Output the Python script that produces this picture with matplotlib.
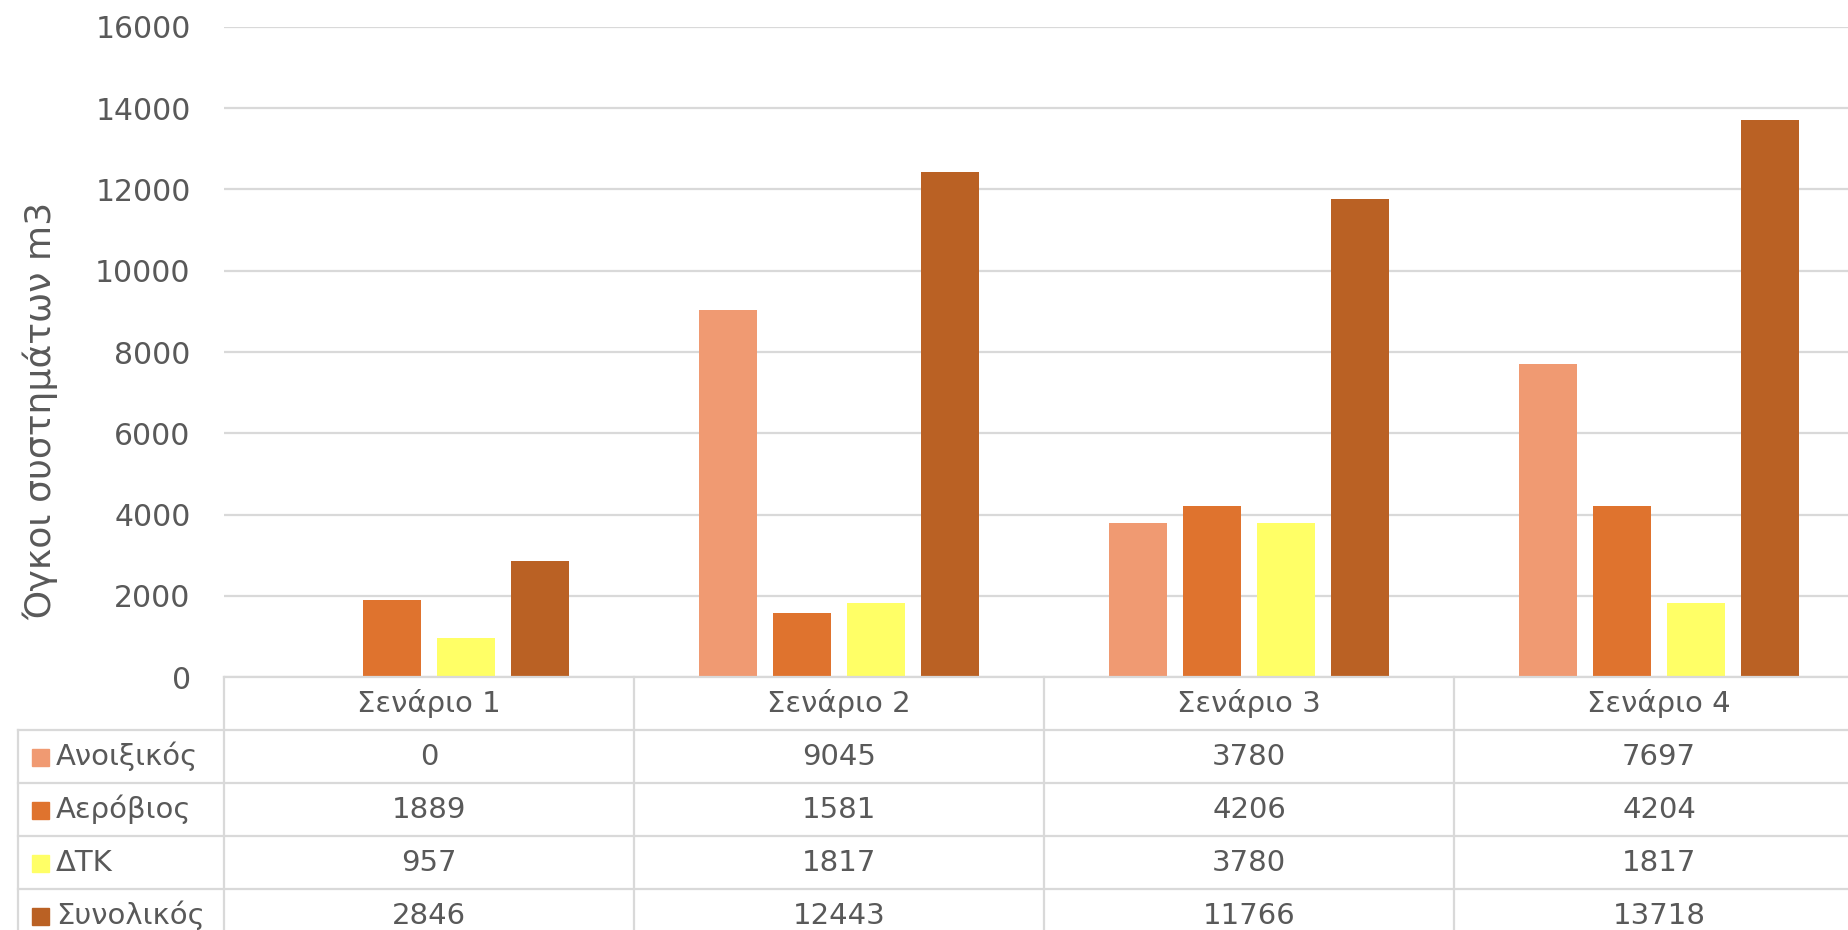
import numpy as np
import matplotlib
matplotlib.use("Agg")
import matplotlib.pyplot as plt

# data
scenarios = ["Σενάριο 1", "Σενάριο 2", "Σενάριο 3", "Σενάριο 4"]
series_names = ["Ανοιξικός", "Αερόβιος", "ΔΤΚ", "Συνολικός"]
anoixikos = [0, 9045, 3780, 7697]
aerobios = [1889, 1581, 4206, 4204]
dtk = [957, 1817, 3780, 1817]
synolikos = [2846, 12443, 11766, 13718]
series_values = [anoixikos, aerobios, dtk, synolikos]
colors = ["#F09A72", "#DF732E", "#FFFF66", "#BA6124"]
y_ticks = [0, 2000, 4000, 6000, 8000, 10000, 12000, 14000, 16000]

W, H = 1849, 930
text_col = "#595959"
grid_col = "#D9D9D9"

# layout in pixels
left = 224
cat_w = 410
y_zero = 677
y_top = 27
row_h = 53
key_left = 18

fig = plt.figure(figsize=(W / 100, H / 100), dpi=100)
ax = fig.add_axes([left / W, (H - y_zero) / H,
                   4 * cat_w / W, (y_zero - y_top) / H])

x = np.arange(len(scenarios))
step = 0.181
width = 0.142
for i, (vals, col) in enumerate(zip(series_values, colors)):
    ax.bar(x + (i - 1.5) * step, vals, width, color=col, zorder=3)

ax.set_xlim(-0.5, 3.5)
ax.set_ylim(0, 16000)
ax.set_yticks(y_ticks)
ax.set_yticklabels([str(t) for t in y_ticks], fontsize=21.5, color=text_col)
ax.tick_params(axis="y", length=0, pad=24)
ax.set_xticks([])
ax.grid(axis="y", color=grid_col, linewidth=1.6, zorder=0)
for s in ax.spines.values():
    s.set_visible(False)

fig.text(40 / W, 1 - 411 / H, "Όγκοι συστημάτων m3", rotation=90,
         ha="center", va="center", fontsize=26, color=text_col)

# data table under the chart, in pixel coordinates
tab = fig.add_axes([0, 0, 1, 1], facecolor="none")
tab.set_xlim(0, W)
tab.set_ylim(H, 0)
tab.axis("off")

right = left + 4 * cat_w
n_rows = len(series_names)
bottom = y_zero + row_h * (n_rows + 1)
lw = 1.6

tab.plot([left, right], [y_zero, y_zero], color=grid_col, lw=lw)
for r in range(1, n_rows + 1):
    yy = y_zero + r * row_h
    tab.plot([key_left, right], [yy, yy], color=grid_col, lw=lw)
tab.plot([key_left, key_left], [y_zero + row_h, bottom], color=grid_col, lw=lw)
for c in range(5):
    xx = left + c * cat_w
    tab.plot([xx, xx], [y_zero, bottom], color=grid_col, lw=lw)

fs = 21
for c, name in enumerate(scenarios):
    tab.text(left + (c + 0.5) * cat_w, y_zero + row_h / 2, name,
             ha="center", va="center", fontsize=fs, color=text_col)

for r, (name, vals, col) in enumerate(zip(series_names, series_values, colors)):
    yc = y_zero + (r + 1.5) * row_h
    tab.add_patch(plt.Rectangle((32, yc - 8), 17, 17, color=col))
    tab.text(56, yc, name, ha="left", va="center", fontsize=fs, color=text_col)
    for c, v in enumerate(vals):
        tab.text(left + (c + 0.5) * cat_w, yc, str(v),
                 ha="center", va="center", fontsize=fs, color=text_col)

fig.savefig("out.png", dpi=100, facecolor="white")
